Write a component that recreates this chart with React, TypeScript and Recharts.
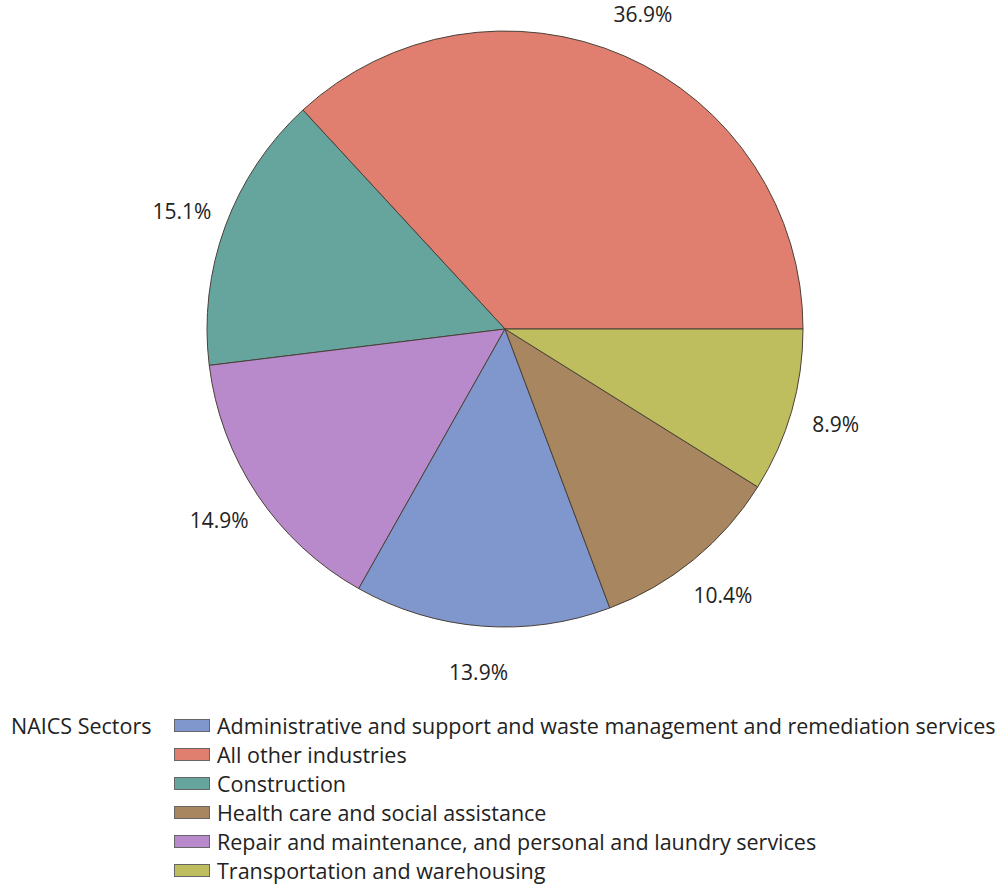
import { PieChart, Pie, Cell, Legend } from 'recharts'

// slices in drawing order, counter-clockwise from 3 o'clock
const sectors = [
  'All other industries',
  'Construction',
  'Repair and maintenance, and personal and laundry services',
  'Administrative and support and waste management and remediation services',
  'Health care and social assistance',
  'Transportation and warehousing',
]
const shares = [36.9, 15.1, 14.9, 13.9, 10.4, 8.9]
const colors = ['#e07f6f', '#66a59e', '#b88acb', '#7f97cc', '#a88760', '#bebe5f']

const legendTitle = 'NAICS Sectors'

const FONT = '"Open Sans", Lato, sans-serif'
const RAD = Math.PI / 180

const data = sectors.map((name, i) => ({ name, value: shares[i], color: colors[i] }))

function PctLabel({ cx, cy, midAngle, outerRadius, value }: any) {
  const r = outerRadius + 46
  const x = cx + r * Math.cos(-midAngle * RAD)
  const y = cy + r * Math.sin(-midAngle * RAD)
  return (
    <text x={x} y={y} fill="#222" fontSize={21} fontFamily={FONT} textAnchor="middle" dominantBaseline="central">
      {`${value.toFixed(1)}%`}
    </text>
  )
}

function SectorLegend() {
  const rows = [...data].sort((a, b) => a.name.localeCompare(b.name))
  return (
    <div style={{ position: 'relative', fontFamily: FONT, fontSize: 21.5, color: '#222', height: 175 }}>
      <div style={{ position: 'absolute', left: 11, top: 0, lineHeight: '29px' }}>{legendTitle}</div>
      {rows.map((d, i) => (
        <div
          key={d.name}
          style={{ position: 'absolute', left: 174, top: i * 29, height: 29, display: 'flex', alignItems: 'center' }}
        >
          <span
            style={{
              display: 'inline-block',
              width: 34,
              height: 11,
              background: d.color,
              border: '1px solid #666',
              marginRight: 7,
            }}
          />
          <span style={{ whiteSpace: 'nowrap' }}>{d.name}</span>
        </div>
      ))}
    </div>
  )
}

export default function App() {
  return (
    <div style={{ position: 'absolute', left: 0, top: 0, width: 999, height: 888, background: '#fff' }}>
      <PieChart width={999} height={888} margin={{ top: 0, right: 0, bottom: 0, left: 0 }}>
        <Pie
          data={data}
          dataKey="value"
          nameKey="name"
          cx={505}
          cy={329}
          outerRadius={298}
          startAngle={0}
          endAngle={360}
          stroke="#4a4038"
          strokeWidth={1}
          label={PctLabel}
          labelLine={false}
          isAnimationActive={false}
        >
          {data.map(d => (
            <Cell key={d.name} fill={d.color} />
          ))}
        </Pie>
        <Legend content={<SectorLegend />} wrapperStyle={{ left: 0, top: 711, width: 999 }} />
      </PieChart>
    </div>
  )
}
